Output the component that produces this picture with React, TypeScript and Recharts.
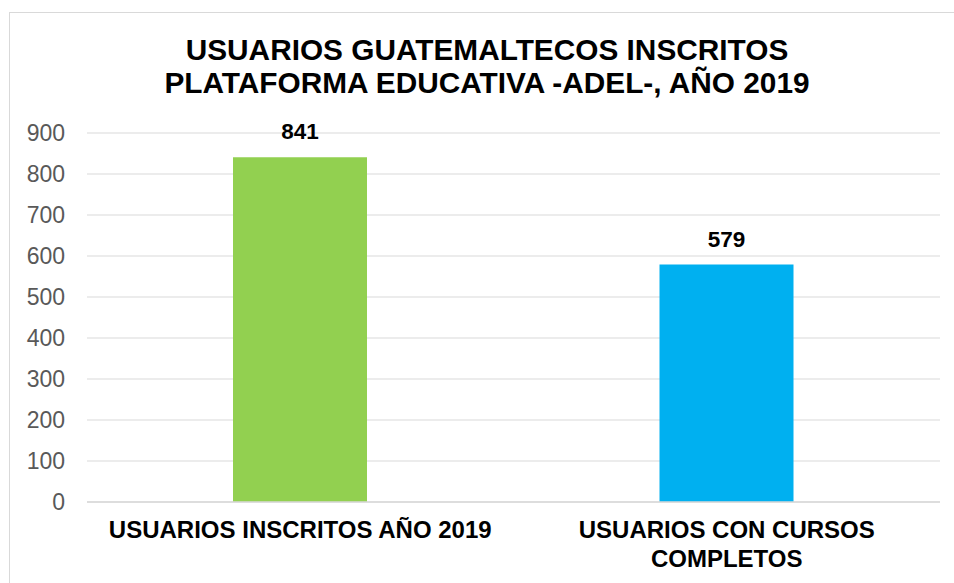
import { BarChart, Bar, XAxis, YAxis, CartesianGrid, Cell, LabelList } from 'recharts';

const categories = ['USUARIOS INSCRITOS AÑO 2019', 'USUARIOS CON CURSOS COMPLETOS'];
const tickLabels = [['USUARIOS INSCRITOS AÑO 2019'], ['USUARIOS CON CURSOS', 'COMPLETOS']];
const usuarios = [841, 579];
const barColors = ['#92D050', '#00B0F0'];
const yTicks = [0, 100, 200, 300, 400, 500, 600, 700, 800, 900];
const titleLines = ['USUARIOS GUATEMALTECOS INSCRITOS', 'PLATAFORMA EDUCATIVA -ADEL-, AÑO 2019'];

const FONT = '"Liberation Sans", Arial, sans-serif';

const CategoryTick = (props: any) => {
  const { x, y, index } = props;
  const lines = tickLabels[index] || [];
  return (
    <text x={x} y={y} textAnchor="middle" fontFamily={FONT} fontSize={24} fontWeight="bold" fill="#000">
      {lines.map((line, i) => (
        <tspan key={i} x={x} dy={i === 0 ? 36 : 29}>
          {line}
        </tspan>
      ))}
    </text>
  );
};

export default function App() {
  // Build rows for the chart from the arrays above
  const chartData = categories.map((name, i) => ({ name, value: usuarios[i] }));

  return (
    <div style={{ position: 'absolute', left: 0, top: 0, width: 954, height: 583, overflow: 'hidden', background: '#fff' }}>
      <div
        style={{
          position: 'absolute',
          left: 9,
          top: 12,
          width: 980,
          height: 620,
          border: '1.5px solid #d9d9d9',
        }}
      />
      <div
        style={{
          position: 'absolute',
          left: 20,
          top: 33,
          width: 934,
          textAlign: 'center',
          fontFamily: FONT,
          fontWeight: 'bold',
          fontSize: 29.8,
          lineHeight: '33px',
          color: '#000',
        }}
      >
        {titleLines.map((t, i) => (
          <div key={i}>{t}</div>
        ))}
      </div>
      <div style={{ position: 'absolute', left: 0, top: 0 }}>
        <BarChart
          width={954}
          height={583}
          data={chartData}
          margin={{ top: 133, right: 14, bottom: 11, left: 0 }}
          barSize={134}
        >
          <CartesianGrid vertical={false} stroke="#d9d9d9" />
          <XAxis
            dataKey="name"
            height={70}
            axisLine={{ stroke: '#d9d9d9', strokeWidth: 1.5 }}
            tickLine={false}
            tickSize={0}
            tickMargin={0}
            interval={0}
            tick={<CategoryTick />}
          />
          <YAxis
            width={87}
            domain={[0, 900]}
            ticks={yTicks}
            axisLine={false}
            tickLine={false}
            tickSize={0}
            tickMargin={22}
            tick={{ fill: '#595959', fontSize: 23, fontFamily: FONT }}
          />
          <Bar dataKey="value" isAnimationActive={false}>
            {chartData.map((_, i) => (
              <Cell key={i} fill={barColors[i]} />
            ))}
            <LabelList
              dataKey="value"
              position="top"
              offset={18}
              fill="#000"
              fontSize={22.5}
              fontWeight="bold"
              fontFamily={FONT}
            />
          </Bar>
        </BarChart>
      </div>
    </div>
  );
}
